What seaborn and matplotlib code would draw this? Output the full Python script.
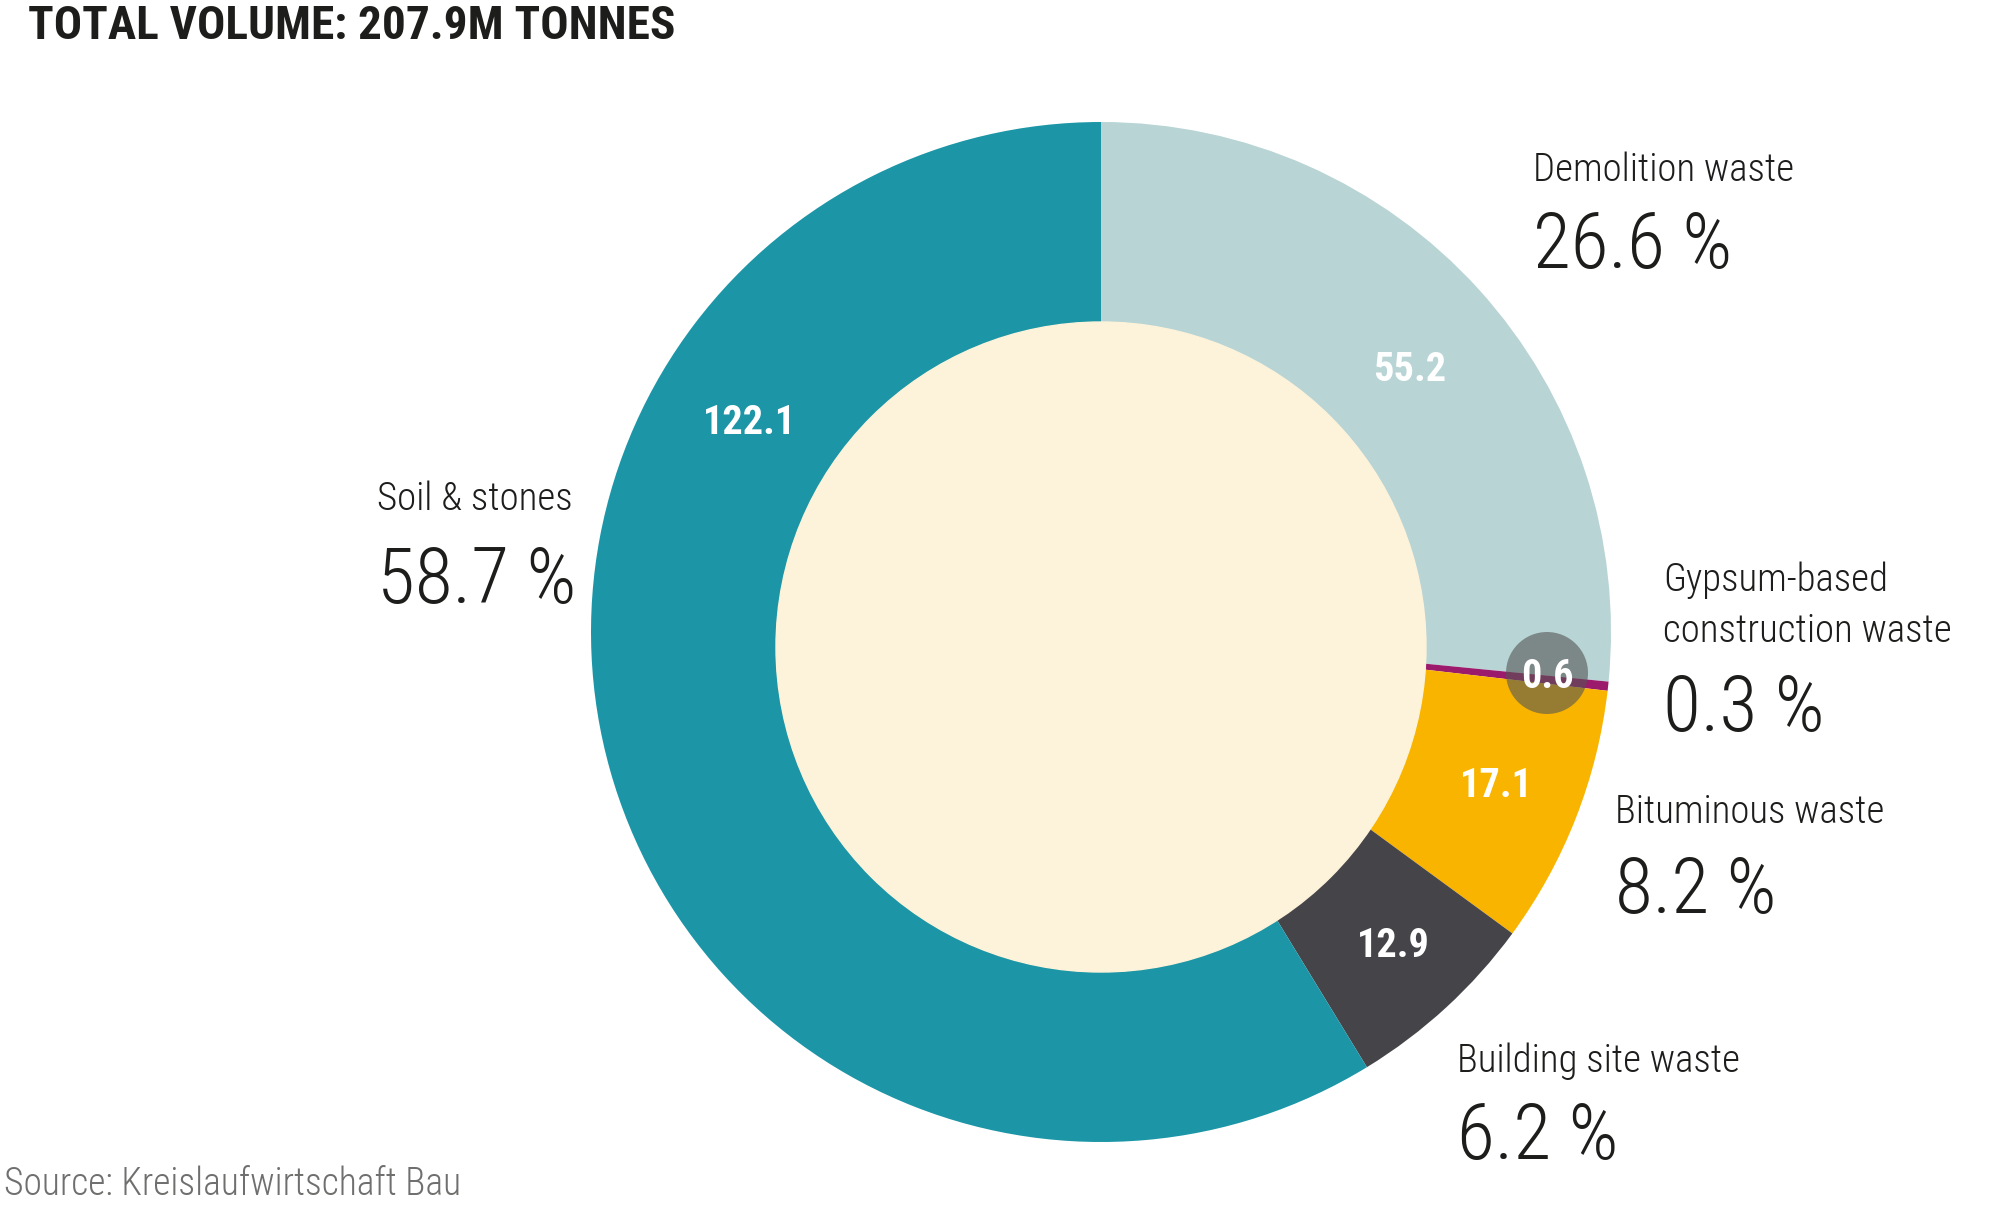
import matplotlib
matplotlib.use("Agg")
import matplotlib.pyplot as plt
from matplotlib import font_manager
from matplotlib.patches import Circle
import seaborn as sns

# data
categories = ["Demolition waste", "Gypsum-based\nconstruction waste", "Bituminous waste",
              "Building site waste", "Soil & stones"]
volumes = [55.2, 0.6, 17.1, 12.9, 122.1]
shares = ["26.6 %", "0.3 %", "8.2 %", "6.2 %", "58.7 %"]
colors = ["#b8d4d5", "#9c1a6b", "#f9b400", "#454449", "#1c96a7"]

sns.set_style("white")

names = {f.name for f in font_manager.fontManager.ttflist}
if "Roboto Condensed" in names:
    FAM, STRETCH = "Roboto Condensed", "normal"
else:
    FAM, STRETCH = "DejaVu Sans", "condensed"
plt.rcParams["font.family"] = [FAM, "DejaVu Sans"]

W, H = 2000, 1208
fig = plt.figure(figsize=(20, 12.08), dpi=100)
ax = fig.add_axes([0, 0, 1, 1])

def py(y):
    return H - y

cx, cy, R = 1101, py(632), 510
ax.pie(volumes, colors=colors, startangle=90, counterclock=False,
       center=(cx, cy), radius=R, wedgeprops=dict(linewidth=0), frame=True)
ax.set_xlim(0, W)
ax.set_ylim(0, H)
ax.axis("off")
ax.set_aspect("equal")

# cream centre
ax.add_patch(Circle((cx, py(647)), 325, color="#fdf3da", zorder=3))

# grey bubble for the tiny slice
ax.add_patch(Circle((1547, py(673)), 41, color="#555555", alpha=0.6, zorder=4, lw=0))

tk = dict(fontstretch=STRETCH)

# values inside ring
val_pos = [(1410, 370), (1547, 677), (1496, 786), (1393, 946), (750, 423)]
for v, (x, y) in zip(volumes, val_pos):
    ax.text(x, py(y), f"{v:.1f}", color="white", fontsize=29, fontweight="bold",
            ha="center", va="center", zorder=5, **tk)

# outside labels
lab_pos = [(1533, 170, 247), (1663, 606, 710), (1615, 812, 892), (1457, 1061, 1138), (377, 499, 582)]
for c, s, (x, y1, y2) in zip(categories, shares, lab_pos):
    ax.text(x, py(y1), c, fontsize=28, color="#1d1d1b", ha="left", va="center",
            fontweight="light", linespacing=1.45, **tk)
    ax.text(x, py(y2), s, fontsize=56, color="#1d1d1b", ha="left", va="center",
            fontweight="light", **tk)

ax.text(28, py(26), "TOTAL VOLUME: 207.9M TONNES", fontsize=34, fontweight="bold",
        color="#1d1d1b", ha="left", va="center", **tk)
ax.text(4, py(1184), "Source: Kreislaufwirtschaft Bau", fontsize=27, color="#6f6f6e",
        fontweight="light", ha="left", va="center", **tk)

fig.savefig("out.png", dpi=100, facecolor="white")
